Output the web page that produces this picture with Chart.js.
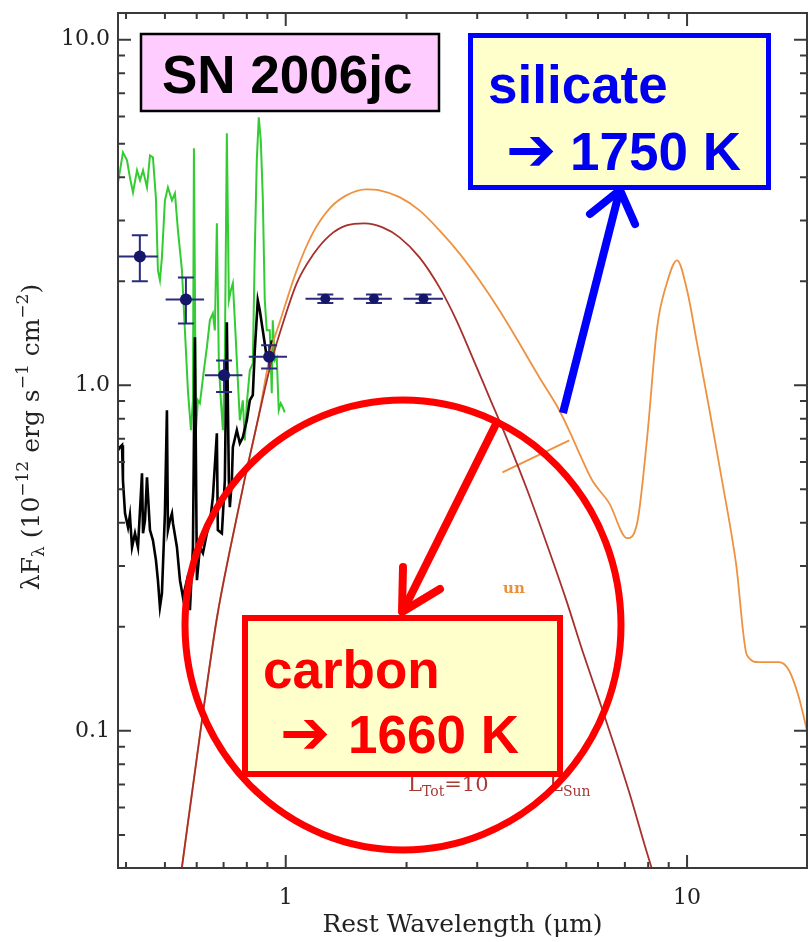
<!DOCTYPE html>
<html><head><meta charset="utf-8">
<script src="https://cdn.jsdelivr.net/npm/chart.js@4.4.1/dist/chart.umd.min.js"></script>
<style>
html,body{margin:0;padding:0;background:#fff;}
#wrap{position:relative;width:808px;height:942px;overflow:hidden;background:#fff;}
#c{position:absolute;left:0;top:0;}
#ov{position:absolute;left:0;top:0;}
</style></head><body>
<div id="wrap">
<canvas id="c" width="808" height="942"></canvas>
<svg id="ov" width="808" height="942" xmlns="http://www.w3.org/2000/svg">
  <!-- y axis title -->
  <text transform="translate(39,437) rotate(-90)" text-anchor="middle" font-family="DejaVu Serif" font-size="25" fill="#222">λF<tspan font-size="17" dy="5">λ</tspan><tspan dy="-5"> (10</tspan><tspan font-size="17" dy="-11">−12</tspan><tspan dy="11"> erg s</tspan><tspan font-size="17" dy="-11">−1</tspan><tspan dy="11"> cm</tspan><tspan font-size="17" dy="-11">−2</tspan><tspan dy="11">)</tspan></text>

  <!-- model luminosity labels (partly hidden) -->
  <text x="503" y="593" font-family="DejaVu Serif" font-size="15" font-weight="bold" fill="#e8903a">un</text>
  <text x="408" y="791" font-family="DejaVu Serif" font-size="21" fill="#a83a36">L<tspan font-size="14" dy="5">Tot</tspan><tspan dy="-5">=10</tspan><tspan font-size="12" dy="-16">8.2</tspan></text>
  <text x="549" y="791" font-family="DejaVu Serif" font-size="21" fill="#a83a36">L<tspan font-size="14" dy="5">Sun</tspan></text>

  <!-- SN label -->
  <rect x="141" y="34" width="298" height="77" fill="#ffccff" stroke="#000" stroke-width="2.5"/>
  <text x="162" y="93" font-family="Liberation Sans, Arial, sans-serif" font-weight="bold" font-size="53" fill="#000">SN 2006jc</text>

  <!-- silicate box -->
  <rect x="470.5" y="35.5" width="298" height="152" fill="#ffffcc" stroke="#0000ff" stroke-width="5"/>
  <text x="488" y="103" font-family="Liberation Sans, Arial, sans-serif" font-weight="bold" font-size="53" fill="#0000ee">silicate</text>
  <text x="506" y="170" font-family="DejaVu Sans" font-weight="bold" font-size="60" fill="#0000ee">➔</text>
  <text x="570" y="170" font-family="Liberation Sans, Arial, sans-serif" font-weight="bold" font-size="53" fill="#0000ee">1750 K</text>

  <!-- carbon box -->
  <rect x="245" y="618" width="315" height="156" fill="#ffffcc" stroke="#ff0000" stroke-width="6"/>
  <text x="263" y="688" font-family="Liberation Sans, Arial, sans-serif" font-weight="bold" font-size="53" fill="#ff0000">carbon</text>
  <text x="280" y="753" font-family="DejaVu Sans" font-weight="bold" font-size="60" fill="#ff0000">➔</text>
  <text x="348" y="753" font-family="Liberation Sans, Arial, sans-serif" font-weight="bold" font-size="53" fill="#ff0000">1660 K</text>

  <!-- red circle and arrows -->
  <ellipse cx="403" cy="625" rx="218" ry="225" fill="none" stroke="#ff0000" stroke-width="7"/>
  <line x1="498" y1="420" x2="403" y2="611" stroke="#ff0000" stroke-width="8" stroke-linecap="butt"/>
  <polyline points="440,589 402,612 403,567" fill="none" stroke="#ff0000" stroke-width="8" stroke-linecap="round" stroke-linejoin="round"/>
  <line x1="563" y1="413" x2="619" y2="193" stroke="#0000ff" stroke-width="8" stroke-linecap="butt"/>
  <polyline points="590,214 620,190 635,224" fill="none" stroke="#0000ff" stroke-width="8" stroke-linecap="round" stroke-linejoin="round"/>
</svg>
</div>
<script>
// ---------------- data ----------------
// green optical spectrum (wavelength in micron, lambda F_lambda in 1e-12 erg/s/cm2)
const greenWave = [0.382,0.3865,0.393,0.4023,0.409,0.4163,0.426,0.4334,0.441,0.4511,0.4589,0.4668,0.4749,0.4803,0.4859,0.4915,0.5,0.5087,0.5206,0.5296,0.5388,0.5513,0.5608,0.5705,0.5805,0.5872,0.5905,0.5973,0.6042,0.6112,0.6252,0.6361,0.6471,0.6583,0.6659,0.6736,0.6813,0.6892,0.6972,0.7052,0.7133,0.7216,0.7299,0.7383,0.7468,0.7554,0.7685,0.7818,0.7909,0.7999,0.8138,0.8278,0.8374,0.847,0.8567,0.8667,0.8767,0.8867,0.8969,0.9125,0.923,0.9283,0.9389,0.9497,0.9607,0.9718,0.9829,0.9943];
const greenFlux = [3.866,4.188,4.72,4.476,3.998,3.616,4.188,3.917,4.188,3.739,4.627,4.566,3.474,2.151,2.013,2.346,3.428,3.739,3.428,3.592,2.808,2.151,1.442,0.967,0.741,0.905,4.849,0.741,0.905,0.887,1.105,1.288,1.542,1.616,1.442,2.942,1.158,0.905,0.741,1.205,5.358,1.762,1.883,1.973,1.542,1.181,0.792,0.905,0.693,0.887,1.105,1.158,2.458,4.476,5.96,5.113,3.497,1.762,1.442,1.442,0.948,1.542,1.181,1.205,0.847,0.887,0.864,0.835];
// black optical spectrum (later epoch)
const blackWave = [0.382,0.3865,0.391,0.393,0.3977,0.4046,0.409,0.414,0.4211,0.4284,0.4384,0.441,0.446,0.4511,0.4589,0.4668,0.4749,0.4803,0.4859,0.4915,0.5,0.5058,0.5087,0.5146,0.5206,0.5236,0.5357,0.545,0.5545,0.5673,0.5771,0.5872,0.5939,0.6008,0.6112,0.6218,0.6361,0.6471,0.6583,0.6736,0.6774,0.6932,0.7052,0.7133,0.7216,0.7257,0.7341,0.7383,0.7554,0.7685,0.7818,0.7999,0.8138,0.8278,0.8374,0.8518,0.8617,0.8767,0.8969,0.9125,0.923];
const blackFlux = [0.649,0.662,0.671,0.531,0.426,0.388,0.421,0.340,0.373,0.340,0.556,0.373,0.407,0.542,0.381,0.356,0.312,0.273,0.228,0.250,0.426,0.847,0.381,0.407,0.426,0.399,0.340,0.273,0.2435,0.273,0.2234,0.340,1.377,0.273,0.340,0.327,0.373,0.399,0.474,0.726,0.381,0.373,0.531,1.521,0.531,0.444,0.531,0.662,0.741,0.68,0.707,0.792,0.905,0.936,1.262,1.762,1.648,1.442,1.205,1.181,1.349];
// carbon dust model (dark red)
const carbonWave = [0.548,0.6112,0.6736,0.7257,0.7909,0.8518,0.923,0.9662,1.065,1.167,1.287,1.418,1.572,1.743,1.921,2.154,2.416,2.663,2.919,3.217,3.546,3.999,4.485,5.0,5.481,6.04,6.583,7.173,7.907,8.28];
const carbonFlux = [0.0383,0.0972,0.2118,0.333,0.538,0.792,1.181,1.414,1.973,2.377,2.716,2.902,2.942,2.864,2.68,2.346,1.92,1.542,1.205,0.923,0.707,0.497,0.344,0.239,0.1712,0.1227,0.0909,0.0665,0.0452,0.038];
// silicate dust model (orange)
const silicateWave = [0.548,0.6112,0.6736,0.7257,0.7909,0.8518,0.923,0.966,1.065,1.167,1.287,1.416,1.587,1.713,1.921,2.154,2.416,2.709,3.038,3.407,3.821,4.283,4.804,5.176,5.388,5.802,6.397,7.091,7.51,7.954,8.423,8.918,9.443,10.0,10.59,11.34,12.22,13.24,14.1,15.11,16.94,17.94,18.99,19.89];
const silicateFlux = [0.0383,0.0972,0.2118,0.333,0.538,0.792,1.288,1.521,2.151,2.753,3.251,3.544,3.69,3.665,3.504,3.208,2.808,2.409,2.013,1.648,1.323,1.055,0.847,0.707,0.636,0.531,0.456,0.361,0.399,0.707,1.472,1.986,2.299,1.883,1.323,0.864,0.531,0.3056,0.1656,0.158,0.158,0.1498,0.1252,0.1005];
// short orange segment
const segWave = [3.467,5.088];
const segFlux = [0.56,0.693];
// photometry with error bars
const photWave   = [0.433,0.564,0.702,0.909,1.255,1.659,2.204];
const photFlux   = [2.36,1.77,1.07,1.21,1.78,1.78,1.78];
const photWaveLo = [0.375,0.502,0.629,0.809,1.12,1.476,1.966];
const photWaveHi = [0.48,0.626,0.78,1.0075,1.394,1.838,2.464];
const photFluxLo = [2.0,1.51,0.956,1.118,1.73,1.73,1.73];
const photFluxHi = [2.716,2.05,1.18,1.305,1.83,1.83,1.83];
// axis ticks
const xMajorTicks = [1,10];
const xMinorTicks = [0.4,0.5,0.6,0.7,0.8,0.9,2,3,4,5,6,7,8,9];
const yMajorTicks = [0.1,1,10];
const yMinorTicks = [0.05,0.06,0.07,0.08,0.09,0.2,0.3,0.4,0.5,0.6,0.7,0.8,0.9,2,3,4,5,6,7,8,9];
const xRange = [0.382,19.9];
const yRange = [0.0401,11.95];

// ---------------- build ----------------
const zip = (xs, ys) => xs.map((v,i)=>({x:v, y:ys[i]}));

const errorBarPlugin = {
  id:'errorBars',
  beforeDatasetDraw(chart, args){
    if (args.index !== 0) return;
    const {ctx, chartArea:a, scales:{x,y}} = chart;
    ctx.save();
    ctx.beginPath(); ctx.rect(a.left, a.top, a.right-a.left, a.bottom-a.top); ctx.clip();
    ctx.strokeStyle = '#2a2a7e'; ctx.lineWidth = 2;
    const cap = 8;
    photWave.forEach((w,i)=>{
      const px = x.getPixelForValue(w), py = y.getPixelForValue(photFlux[i]);
      const x0 = x.getPixelForValue(photWaveLo[i]), x1 = x.getPixelForValue(photWaveHi[i]);
      const y0 = y.getPixelForValue(photFluxLo[i]), y1 = y.getPixelForValue(photFluxHi[i]);
      ctx.beginPath();
      ctx.moveTo(x0,py); ctx.lineTo(x1,py);
      ctx.moveTo(px,y0); ctx.lineTo(px,y1);
      ctx.moveTo(px-cap,y0); ctx.lineTo(px+cap,y0);
      ctx.moveTo(px-cap,y1); ctx.lineTo(px+cap,y1);
      ctx.stroke();
    });
    ctx.restore();
  }
};

const framePlugin = {
  id:'frame',
  afterDraw(chart){
    const {ctx, chartArea:a, scales:{x,y}} = chart;
    ctx.save();
    ctx.strokeStyle = '#3a3a3a';
    ctx.lineWidth = 2;
    ctx.strokeRect(a.left, a.top, a.right-a.left, a.bottom-a.top);
    ctx.beginPath();
    const xt = (v,len)=>{ const p = x.getPixelForValue(v); ctx.moveTo(p,a.bottom); ctx.lineTo(p,a.bottom-len); ctx.moveTo(p,a.top); ctx.lineTo(p,a.top+len); };
    const yt = (v,len)=>{ const p = y.getPixelForValue(v); ctx.moveTo(a.left,p); ctx.lineTo(a.left+len,p); ctx.moveTo(a.right,p); ctx.lineTo(a.right-len,p); };
    xMajorTicks.forEach(v=>xt(v,13)); xMinorTicks.forEach(v=>xt(v,6));
    yMajorTicks.forEach(v=>yt(v,13)); yMinorTicks.forEach(v=>yt(v,7));
    ctx.stroke();
    ctx.restore();
  }
};

const noPad = s => { s.paddingTop = 0; s.paddingBottom = 0; s.paddingLeft = 0; s.paddingRight = 0; };

const lineDs = (label, xs, ys, color, width, extra) => Object.assign({
  label, data: zip(xs, ys), showLine:true, borderColor:color, backgroundColor:color,
  borderWidth:width, pointRadius:0, pointHoverRadius:0, fill:false, clip:0
}, extra||{});

new Chart(document.getElementById('c'), {
  type:'scatter',
  data:{ datasets:[
    { label:'Photometry', data: zip(photWave, photFlux), showLine:false,
      pointRadius:[6,6,6,6,5,5,5], pointBackgroundColor:'#15156a', pointBorderColor:'#15156a', pointBorderWidth:0, clip:0 },
    lineDs('Carbon model', carbonWave, carbonFlux, '#a8302c', 1.8, {cubicInterpolationMode:'monotone'}),
    lineDs('Silicate model', silicateWave, silicateFlux, '#ee9140', 1.8, {cubicInterpolationMode:'monotone'}),
    lineDs('Silicate segment', segWave, segFlux, '#ee9140', 1.8),
    lineDs('Late spectrum', blackWave, blackFlux, '#000000', 2.6),
    lineDs('Early spectrum', greenWave, greenFlux, '#33cc33', 2)
  ]},
  options:{
    responsive:false, animation:false, devicePixelRatio:1, events:[],
    layout:{ autoPadding:false, padding:{ top:13, right:1, left:0, bottom:0 } },
    plugins:{ legend:{display:false}, tooltip:{enabled:false} },
    scales:{
      x:{ type:'logarithmic', min:xRange[0], max:xRange[1],
          afterBuildTicks: s => { s.ticks = xMajorTicks.map(v=>({value:v})); },
          afterFit: s => { s.height = 74; noPad(s); },
          grid:{display:false, drawTicks:false}, border:{display:false},
          ticks:{ callback: v => String(v), font:{family:'DejaVu Serif', size:22}, color:'#222', padding:17, maxRotation:0, autoSkip:false },
          title:{ display:true, text:'Rest Wavelength (μm)', font:{family:'DejaVu Serif', size:25}, color:'#222', padding:{top:0, bottom:2} } },
      y:{ type:'logarithmic', min:yRange[0], max:yRange[1],
          afterBuildTicks: s => { s.ticks = yMajorTicks.map(v=>({value:v})); },
          afterFit: s => { s.width = 118; noPad(s); },
          grid:{display:false, drawTicks:false}, border:{display:false},
          ticks:{ callback: v => Number(v).toFixed(1), font:{family:'DejaVu Serif', size:22}, color:'#222', padding:8, autoSkip:false } }
    }
  },
  plugins:[errorBarPlugin, framePlugin]
});
</script>
</body></html>
